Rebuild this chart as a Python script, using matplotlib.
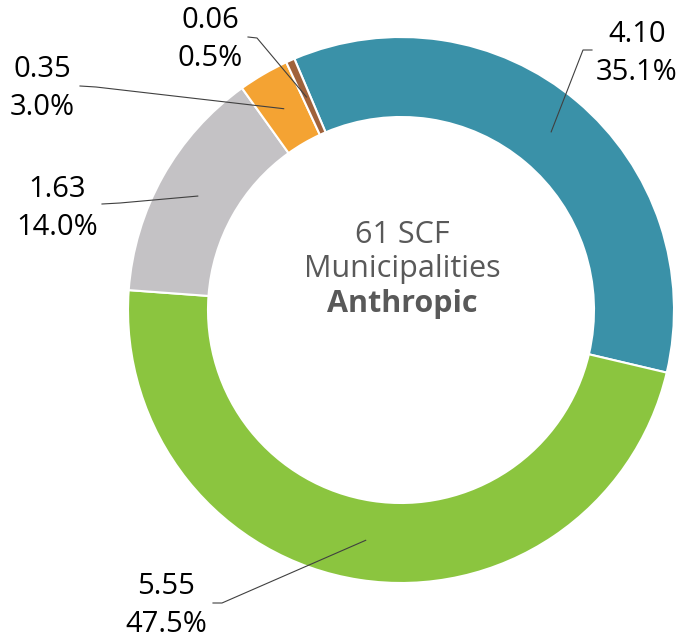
import numpy as np
import matplotlib.pyplot as plt

plt.rcParams['font.family'] = ['Open Sans', 'DejaVu Sans']

# dati del grafico
valori = [4.10, 5.55, 1.63, 0.35, 0.06]
percentuali = [35.1, 47.5, 14.0, 3.0, 0.5]
colori = ['#3A91A8', '#8BC53F', '#C4C2C5', '#F4A333', '#A0623A']
titolo = ['61 SCF', 'Municipalities', 'Anthropic']

# layout in pixel (x verso destra, y verso il basso)
centro = (401, 310)
r_est = 273
r_int = 193
pos_etichette = [(637, 42), (166, 594), (57, 197), (42, 77), (210, 28)]  # centro x, linea di base della prima riga
inizio_linee = [(592, 50), (213, 603), (102, 204), (80, 86), (248, 37)]
fine_tratto = [(583, 50), (222, 603), (120, 203), (96, 87), (257, 38)]

fig = plt.figure(figsize=(6.82, 6.38), dpi=100)
ax = fig.add_axes([0, 0, 1, 1])

# asse y invertito: startangle e verso sono specchiati
spicchi, _ = ax.pie(valori, colors=colori, center=centro, radius=r_est,
                    startangle=-113, counterclock=True,
                    wedgeprops=dict(width=r_est - r_int, edgecolor='white', linewidth=1.5))
ax.set_xlim(0, 682)
ax.set_ylim(638, 0)
ax.set_aspect('equal')
ax.axis('off')

r_med = (r_est + r_int) / 2
for i, w in enumerate(spicchi):
    ang = np.deg2rad((w.theta1 + w.theta2) / 2)
    px = centro[0] + r_med * np.cos(ang)
    py = centro[1] + r_med * np.sin(ang)
    x0, y0 = inizio_linee[i]
    x1, y1 = fine_tratto[i]
    ax.plot([x0, x1, px], [y0, y1, py], color='#404040', linewidth=0.8)
    xe, ye = pos_etichette[i]
    ax.text(xe, ye, f'{valori[i]:.2f}', ha='center', va='baseline', fontsize=21, color='black')
    ax.text(xe, ye + 38, f'{percentuali[i]:.1f}%', ha='center', va='baseline', fontsize=21, color='black')

ax.text(402, 243, titolo[0], ha='center', va='baseline', fontsize=22, color='#595959')
ax.text(402, 277, titolo[1], ha='center', va='baseline', fontsize=22, color='#595959')
ax.text(402, 312, titolo[2], ha='center', va='baseline', fontsize=22, color='#595959',
        fontweight='bold')

plt.savefig('out.png', dpi=100)
